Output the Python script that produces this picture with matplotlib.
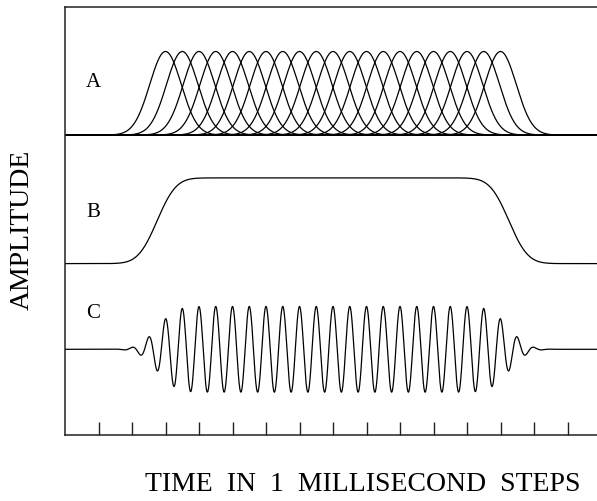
import numpy as np
import matplotlib
matplotlib.use("Agg")
import matplotlib.pyplot as plt

pulse_centers = [3.0, 3.5, 4.0, 4.5, 5.0, 5.5, 6.0, 6.5, 7.0, 7.5, 8.0,
                 8.5, 9.0, 9.5, 10.0, 10.5, 11.0, 11.5, 12.0, 12.5, 13.0]
pulse_sigma = 0.47      # ms
pulse_height = 1.95
carrier_freq = 2.0      # cycles per ms
trace_labels = ["A", "B", "C"]
trace_baselines = [7.0, 4.0, 2.0]
plateau_height = 2.0
burst_amplitude = 1.0
time_ticks = list(range(1, 16))

t = np.linspace(0, 16, 4000)
pulses = [pulse_height * np.exp(-0.5 * ((t - c) / pulse_sigma) ** 2) for c in pulse_centers]
envelope = np.sum(pulses, axis=0)
envelope = envelope / envelope.max()

plt.rcParams["font.family"] = ["Liberation Serif", "DejaVu Serif"]

fig = plt.figure(figsize=(5.97, 5.02), dpi=100)
W, H = 597, 502
left, right, top, bottom = 65, 601, 7.5, 436
ax = fig.add_axes([left / W, 1 - bottom / H, (right - left) / W, (bottom - top) / H])

lw = 0.9
for p in pulses:
    ax.plot(t, trace_baselines[0] + p, color="black", lw=lw)
ax.plot(t, trace_baselines[1] + plateau_height * envelope, color="black", lw=lw)
ax.plot(t, trace_baselines[2] + burst_amplitude * envelope * np.cos(2 * np.pi * carrier_freq * t),
        color="black", lw=lw)

label_y = [8.25, 5.22, 2.85]
for lab, ly in zip(trace_labels, label_y):
    ax.text(0.85, ly, lab, fontsize=15, ha="center", va="center")

ax.set_xlim(0, 16)
ax.set_ylim(0, 10)
ax.set_xticks(time_ticks)
ax.set_xticklabels([])
ax.set_yticks([])
ax.tick_params(axis="x", direction="in", length=9.4, width=1.0, color="#222222")
for s in ax.spines.values():
    s.set_linewidth(1.1)
    s.set_color("#222222")

fig.text(22 / W, 1 - 230 / H, "AMPLITUDE", rotation=90, fontsize=20,
         ha="center", va="center")
fig.text(363 / W, 1 - 485 / H, "TIME  IN  1  MILLISECOND  STEPS", fontsize=20,
         ha="center", va="center")

fig.savefig("out.png", dpi=100)
